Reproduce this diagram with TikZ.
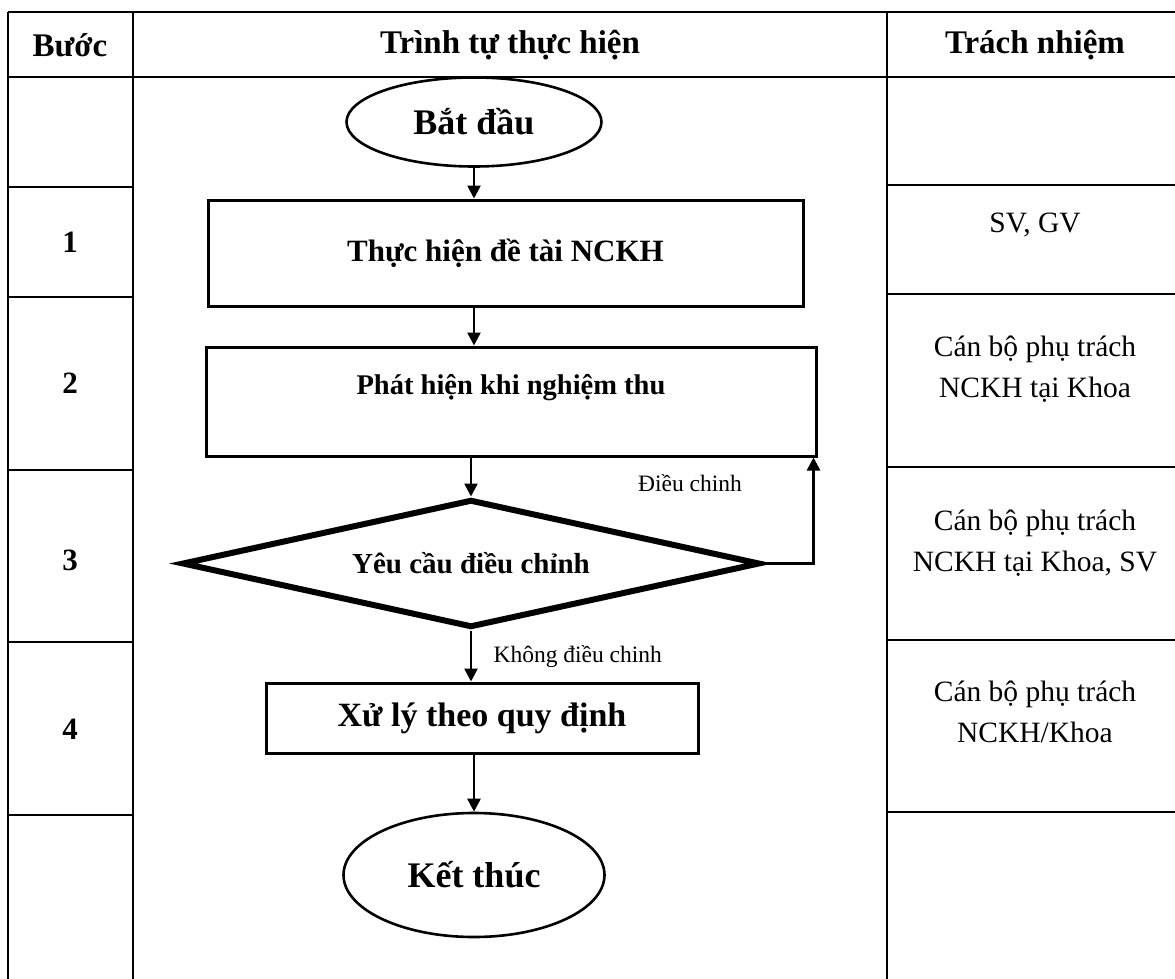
\documentclass[tikz,border=0pt]{standalone}
\usepackage{fontspec}
\setmainfont{Liberation Serif}
\usetikzlibrary{shapes.geometric,arrows.meta,calc}
\begin{document}
\begin{tikzpicture}[x=1pt,y=-1pt,
  tbl/.style={line width=2.6pt},
  boxn/.style={draw,line width=3pt,rectangle,inner sep=0pt},
  ovaln/.style={draw,line width=2.6pt,ellipse,inner sep=0pt},
  decn/.style={draw,line width=6pt,diamond,inner sep=0pt,aspect=4.3,line join=miter},
  arr/.style={line width=2.6pt,-{Triangle[length=13pt,width=13pt]}},
  hdr/.style={font=\bfseries\fontsize{33}{38}\selectfont},
  num/.style={font=\bfseries\fontsize{31}{36}\selectfont},
  resp/.style={font=\fontsize{29.5}{41}\selectfont,align=center},
  lbl/.style={font=\fontsize{23.5}{28}\selectfont}
]
\fill[white] (0,0) rectangle (1175,979);
\useasboundingbox (0,0) rectangle (1175,979);
\clip (0,0) rectangle (1175,979);

% table frame
\draw[tbl] (8,12) -- (1190,12);
\draw[tbl] (8,77) -- (1190,77);
\draw[tbl] (8,12) -- (8,990);
\draw[tbl] (133,12) -- (133,990);
\draw[tbl] (887,12) -- (887,990);
\foreach \yy in {187,297,470,642,815} \draw[tbl] (8,\yy) -- (133,\yy);
\foreach \yy in {185,294,467,640,812} \draw[tbl] (887,\yy) -- (1190,\yy);

% header
\node[hdr] (hstep) at (70,45) {Bước};
\node[hdr] (hseq) at (510,45) {Trình tự thực hiện};
\node[hdr] (hresp) at (1035,45) {Trách nhiệm};

% step numbers
\node[num] (n1) at (70,242) {1};
\node[num] (n2) at (70,383) {2};
\node[num] (n3) at (70,560) {3};
\node[num] (n4) at (70,729) {4};

% responsibilities
\node[resp] (r1) at (1035,225) {SV, GV};
\node[resp] (r2) at (1035,369) {Cán bộ phụ trách\\NCKH tại Khoa};
\node[resp] (r3) at (1035,543) {Cán bộ phụ trách\\NCKH tại Khoa, SV};
\node[resp] (r4) at (1035,712) {Cán bộ phụ trách\\NCKH/Khoa};

% flowchart
\node[ovaln,minimum width=255pt,minimum height=89pt,font=\bfseries\fontsize{36}{40}\selectfont] (start) at (474,122) {Bắt đầu};
\node[boxn,minimum width=595pt,minimum height=106pt,font=\bfseries\fontsize{31}{36}\selectfont] (box1) at (505.5,253) {Thực hiện đề tài NCKH};
\node[boxn,minimum width=610pt,minimum height=109pt] (box2) at (511,401.5) {};
\node[font=\bfseries\fontsize{28.5}{33}\selectfont] (t2) at (511,388) {Phát hiện khi nghiệm thu};
\node[decn,minimum width=578pt,minimum height=128pt,font=\bfseries\fontsize{29}{34}\selectfont] (dec) at (471,563.5) {Yêu cầu điều chỉnh};
\node[boxn,minimum width=432pt,minimum height=70pt,font=\bfseries\fontsize{34}{38}\selectfont] (box4) at (482,718) {Xử lý theo quy định};
\node[ovaln,minimum width=261pt,minimum height=124pt,font=\bfseries\fontsize{36}{40}\selectfont] (end) at (474,875) {Kết thúc};

\coordinate (b2in) at ($(box2.south east)+(-4,0)$);

\draw[arr] (start.south) -- (start.south |- box1.north);
\draw[arr] (box1.south -| start.south) -- (box2.north -| start.south);
\draw[arr] (box2.south -| dec.north) -- (dec.north);
\draw[arr] (dec.south) -- (dec.south |- box4.north);
\draw[arr] (box4.south -| end.north) -- (end.north);
\draw[arr] (dec.east) -| (b2in);

\node[lbl] (ladj) at (690,483) {Điều chinh};
\node[lbl,anchor=west] (lno) at (490,657) {Không điều chinh};
\end{tikzpicture}
\end{document}
